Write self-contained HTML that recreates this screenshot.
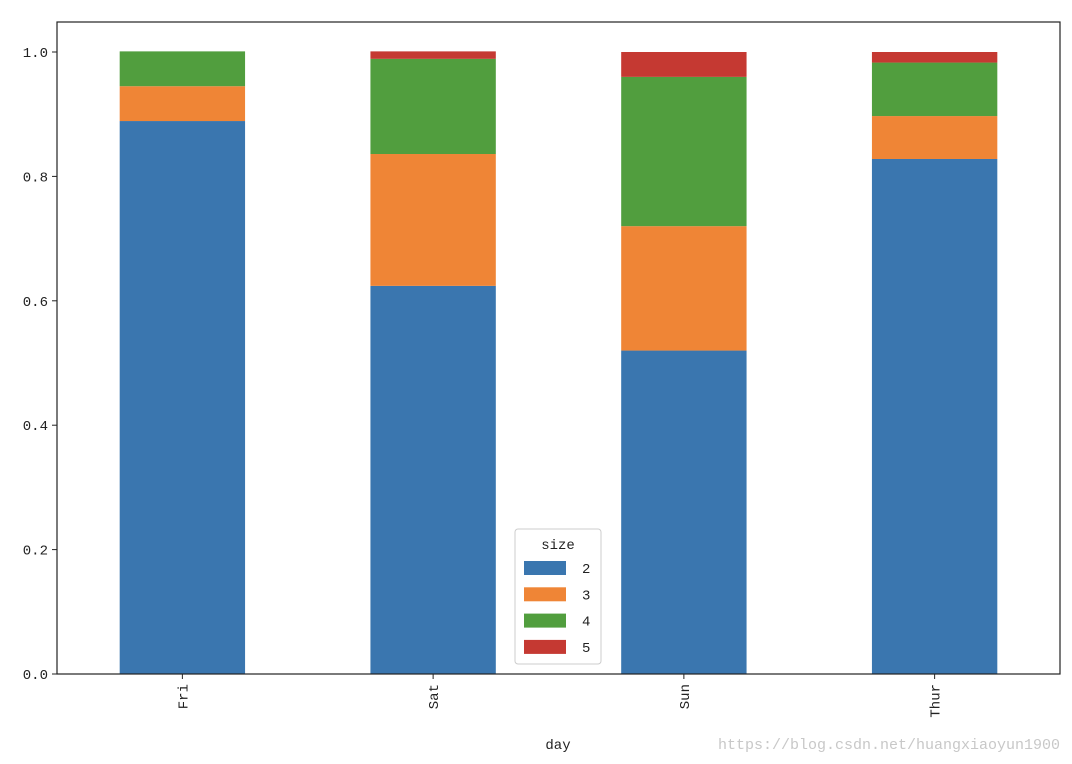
<!DOCTYPE html>
<html><head><meta charset="utf-8"><style>
body{margin:0;background:#fff;}
svg{display:block;font-family:"Liberation Mono","DejaVu Sans Mono",monospace;}
</style></head><body>
<svg id="chart" width="1072" height="764" viewBox="0 0 1072 764" xmlns="http://www.w3.org/2000/svg">
<rect x="0" y="0" width="1072" height="764" fill="#fff"/>
<g id="bars"></g>
<rect x="57" y="22" width="1003" height="652" fill="none" stroke="#222" stroke-width="1.2"/>
<g id="yticks"></g>
<g id="xticks"></g>
<text x="558" y="749" font-size="14" text-anchor="middle" fill="#222">day</text>
<text x="1060" y="749" font-size="15" text-anchor="end" fill="#c8c8c8">https://blog.csdn.net/huangxiaoyun1900</text>
<g id="legend">
<rect x="515" y="529" width="86" height="135" rx="3" fill="#fff" fill-opacity="0.85" stroke="#ccc"/>
<text x="558" y="549" font-size="14" text-anchor="middle" fill="#222">size</text>
</g>
</svg>
<script>
const categories=["Fri","Sat","Sun","Thur"];
const seriesNames=["2","3","4","5"];
const size2=[0.889,0.624,0.520,0.828];
const size3=[0.056,0.212,0.200,0.069];
const size4=[0.056,0.153,0.240,0.086];
const size5=[0.000,0.012,0.040,0.017];
const yTicks=[0,0.2,0.4,0.6,0.8,1.0];
const yTickLabels=["0.0","0.2","0.4","0.6","0.8","1.0"];
const colors=["#3a76af","#ef8536","#519e3e","#c53932"];
const series=[size2,size3,size4,size5];
const NS="http://www.w3.org/2000/svg";
const L=57,R=1060,Y0=674,Y1=52;
const y=v=>Y0-(Y0-Y1)*v;
const step=(R-L)/categories.length;
const xc=i=>L+step*(i+0.5);
const bw=step*0.5;
const bars=document.getElementById('bars');
categories.forEach((c,i)=>{
  let acc=0;
  series.forEach((s,k)=>{
    const r=document.createElementNS(NS,'rect');
    
    
    r.setAttribute('x',xc(i)-bw/2);r.setAttribute('width',bw);
    r.setAttribute('y',y(acc+s[i]));r.setAttribute('height',y(acc)-y(acc+s[i]));
    r.setAttribute('fill',colors[k]);
    bars.appendChild(r);acc+=s[i];
  });
});
const yt=document.getElementById('yticks');
yTicks.forEach((v,i)=>{
  const l=document.createElementNS(NS,'line');
  
  
  l.setAttribute('x1',L-5);l.setAttribute('x2',L);l.setAttribute('y1',y(v));l.setAttribute('y2',y(v));l.setAttribute('stroke','#222');
  yt.appendChild(l);
  const t=document.createElementNS(NS,'text');
  
  
  t.setAttribute('x',L-9);t.setAttribute('y',y(v)+5);t.setAttribute('font-size','14');t.setAttribute('text-anchor','end');t.setAttribute('fill','#222');
  t.textContent=yTickLabels[i];yt.appendChild(t);
});
const xt=document.getElementById('xticks');
categories.forEach((c,i)=>{
  const l=document.createElementNS(NS,'line');
  
  
  l.setAttribute('x1',xc(i));l.setAttribute('x2',xc(i));l.setAttribute('y1',Y0);l.setAttribute('y2',Y0+5);l.setAttribute('stroke','#222');
  xt.appendChild(l);
  const t=document.createElementNS(NS,'text');
  
  
  t.setAttribute('font-size','14');t.setAttribute('text-anchor','end');t.setAttribute('fill','#222');
  t.setAttribute('transform','translate('+(xc(i)+5)+','+(Y0+10)+') rotate(-90)');
  t.textContent=c;xt.appendChild(t);
});
const lg=document.getElementById('legend');
seriesNames.forEach((n,k)=>{
  const yy=561+k*26.3;
  const r=document.createElementNS(NS,'rect');
  
  
  r.setAttribute('x',524);r.setAttribute('y',yy);r.setAttribute('width',42);r.setAttribute('height',14);r.setAttribute('fill',colors[k]);
  lg.appendChild(r);
  const t=document.createElementNS(NS,'text');
  
  
  t.setAttribute('x',582);t.setAttribute('y',yy+12);t.setAttribute('font-size','14');t.setAttribute('fill','#222');
  t.textContent=n;lg.appendChild(t);
});
</script>
</body></html>
